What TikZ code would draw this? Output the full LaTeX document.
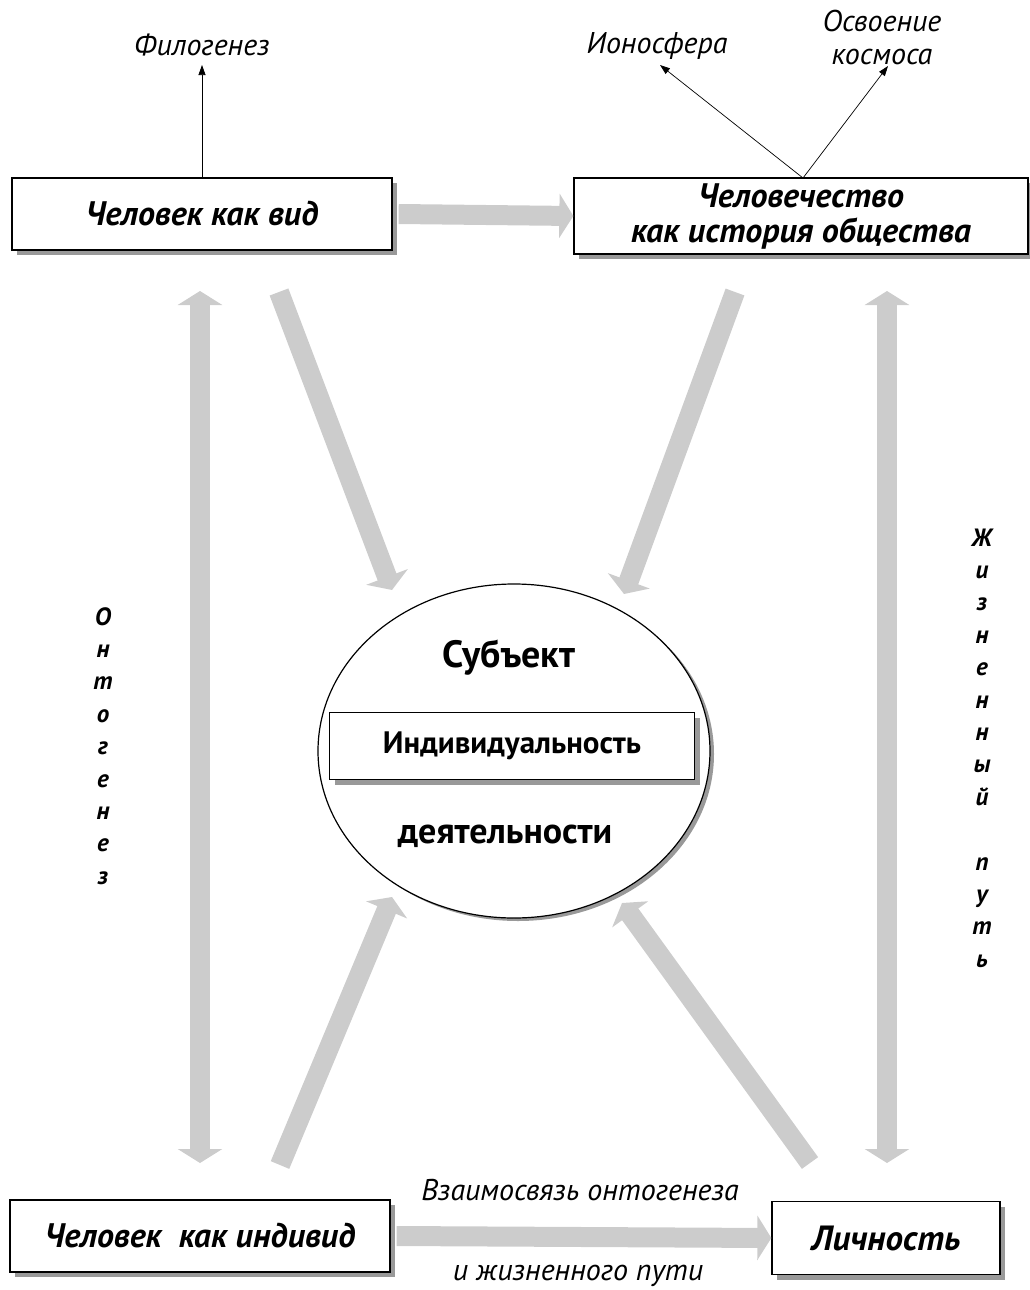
\documentclass[tikz,border=0pt]{standalone}
\usepackage{fontspec}
\setmainfont{Liberation Sans}
\newfontfamily\itf{PT Sans}
\newfontfamily\ptsans{PT Sans}
\usetikzlibrary{arrows.meta,shadows,shapes.geometric}
\begin{document}
\begin{tikzpicture}[x=1pt,y=-1pt,
  box/.style={draw=black, line width=1.3pt, fill=white,
    drop shadow={shadow xshift=5pt, shadow yshift=-5pt, fill=black!40, opacity=1},
    font=\itf\bfseries\itshape\fontsize{34}{35}\selectfont, inner sep=0pt, align=center},
  lbl/.style={font=\itf\itshape\fontsize{30}{33}\selectfont, inner sep=1pt, align=center},
  vlet/.style={font=\itf\bfseries\itshape\fontsize{25}{32.4}\selectfont, inner sep=0pt, align=center},
  ctext/.style={font=\ptsans\bfseries\fontsize{36}{40}\selectfont, inner sep=0pt},
  thin/.style={draw=black, line width=0.7pt, -{Triangle[width=7pt,length=10pt]}},
  garrow/.style={draw=black!20, line width=20pt, -{Triangle[width=44pt,length=14pt]}},
  gdouble/.style={draw=black!20, line width=20pt, {Triangle[width=44pt,length=14pt]}-{Triangle[width=44pt,length=14pt]}}
]
\useasboundingbox (0,0) rectangle (1030,1290);

% main boxes
\node[box, minimum width=380pt, minimum height=72pt] (vid) at (202,214) {Человек как вид};
\node[box, minimum width=454pt, minimum height=76pt] (hum) at (801,216) {Человечество\\как история общества};
\node[box, minimum width=380pt, minimum height=72pt] (ind) at (200,1236) {Человек\ \ как индивид};
\node[box, minimum width=228pt, minimum height=73pt, font=\itf\bfseries\itshape\fontsize{35}{36}\selectfont] (lich) at (886,1238) {Личность};

% top labels
\node[lbl] (filo) at (202,45) {Филогенез};
\node[lbl] (iono) at (657,46) {Ионосфера};
\node[lbl] (kosm) at (882,38) {Освоение\\космоса};
\coordinate (filotip) at (202,65);
\coordinate (ionotip) at (660,65);
\coordinate (kosmtip) at (888,66);
\coordinate (humtop) at (803,178);
\draw[thin] (vid.north) -- (filotip);
\draw[thin] (humtop) -- (ionotip);
\draw[thin] (humtop) -- (kosmtip);

% central ellipse
\node[ellipse, draw=black, line width=1.2pt, fill=white,
  drop shadow={shadow xshift=4pt, shadow yshift=-3pt, fill=black!40, opacity=1},
  minimum width=392pt, minimum height=334pt, inner sep=0pt] (subj) at (514,751) {};
\node[ctext, font=\ptsans\bfseries\fontsize{38}{40}\selectfont] (subjt) at (509,658) {Субъект};
\node[box, line width=1pt, minimum width=365pt, minimum height=67pt,
  drop shadow={shadow xshift=5pt, shadow yshift=-5pt, fill=black!40, opacity=1},
  font=\ptsans\bfseries\fontsize{31}{36}\selectfont] (indiv) at (512,746) {Индивидуальность};
\node[ctext] (deyat) at (505,836) {деятельности};

% horizontal grey arrows
\draw[garrow] ([xshift=6pt]vid.east) -- (hum.west);
\draw[garrow] ([xshift=6pt]ind.east) -- (lich.west);

% vertical double arrows
\coordinate (lvt) at (200,291);
\coordinate (lvb) at (200,1163);
\coordinate (rvt) at (887,291);
\coordinate (rvb) at (887,1163);
\draw[gdouble] (lvt) -- (lvb);
\draw[gdouble] (rvt) -- (rvb);

% diagonal arrows
\coordinate (d1s) at (279,292);
\coordinate (d1e) at (392,590);
\coordinate (d2s) at (735,292);
\coordinate (d2e) at (624,594);
\coordinate (d3s) at (280,1165);
\coordinate (d3e) at (392,897);
\coordinate (d4s) at (810,1163);
\coordinate (d4e) at (622,903);
\draw[garrow] (d1s) -- (d1e);
\draw[garrow] (d2s) -- (d2e);
\draw[garrow] (d3s) -- (d3e);
\draw[garrow] (d4s) -- (d4e);

% vertical letter labels
\node[vlet] (onto) at (103,746) {О\\н\\т\\о\\г\\е\\н\\е\\з};
\node[vlet] (zhizn) at (982,748) {Ж\\и\\з\\н\\е\\н\\н\\ы\\й\\[32.4pt]п\\у\\т\\ь};

% bottom labels
\node[lbl] (vzaim) at (580,1190) {Взаимосвязь онтогенеза};
\node[lbl] (ipath) at (578,1276) {и жизненного пути};
\end{tikzpicture}
\end{document}
